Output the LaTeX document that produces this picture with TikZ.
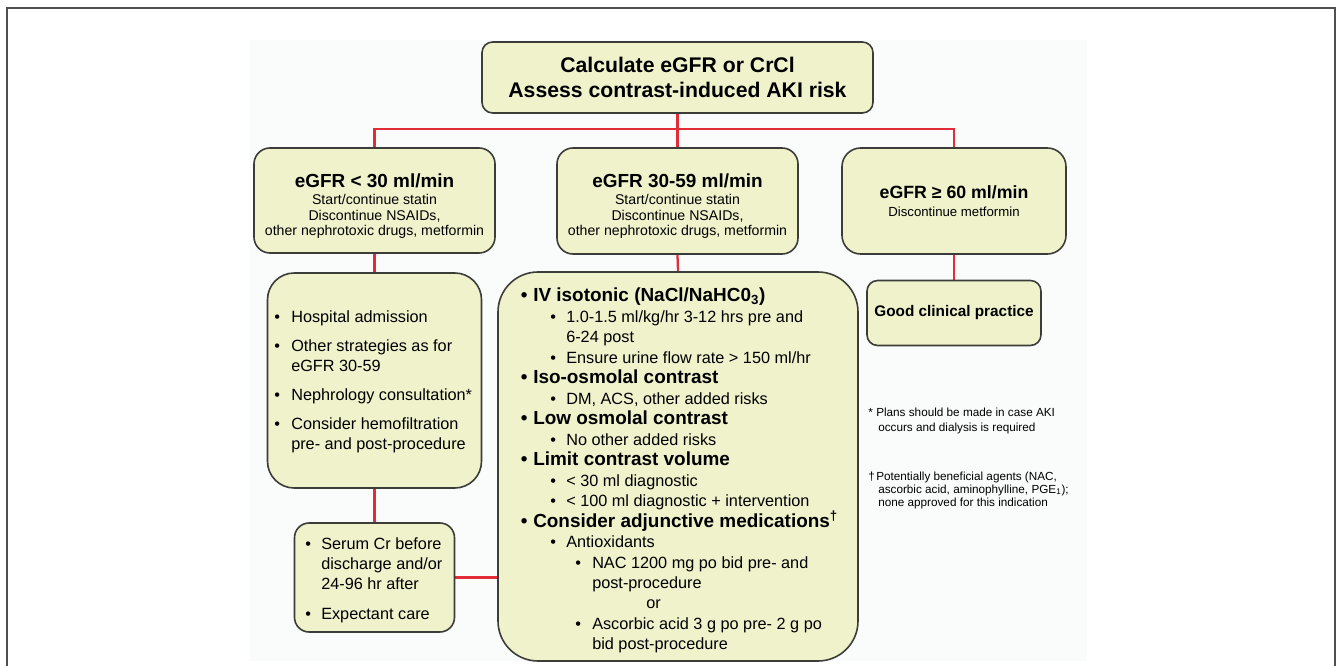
\documentclass[tikz,border=0pt]{standalone}
\usepackage{fontspec}
\setmainfont{Liberation Sans}
\usetikzlibrary{backgrounds}
\newdimen\PX \PX=0.75pt
\definecolor{boxfill}{RGB}{240,242,204}
\definecolor{boxline}{RGB}{60,60,56}
\definecolor{linkred}{RGB}{226,44,56}
\definecolor{panel}{RGB}{250,252,252}
\definecolor{frame}{RGB}{80,80,80}
\newcommand\fs[2]{\fontsize{#1}{#2}\selectfont}
\newcommand\bitem[3]{\par\noindent\makebox[#2\PX][l]{\hspace*{#1\PX}\textbullet}#3}
\newcommand\cont[2]{\par\noindent\hspace*{#1\PX}#2}
\begin{document}
\begin{tikzpicture}[x=0.75pt,y=-0.75pt,
  box/.style={draw=boxline, line width=1.2pt, fill=boxfill, inner sep=0pt},
  wh/.style 2 args={minimum width=#1*0.75pt, minimum height=#2*0.75pt},
  link/.style={draw=linkred, line width=1.7pt},
  txt/.style={inner sep=0pt, anchor=base west},
  ctxt/.style={inner sep=0pt, align=center}]
\useasboundingbox (0,0) rectangle (1339,666);

% boxes
\node[box, rounded corners=8pt, wh={391}{71}, align=center, font=\fs{15.9}{19.2}\bfseries] (top) at (677.5,77.5)
  {Calculate eGFR or CrCl\\Assess contrast-induced AKI risk};
\node[box, rounded corners=12pt, wh={241}{105}] (b1) at (374.5,200.5) {};
\node[box, rounded corners=12pt, wh={241}{106}] (b2) at (677.5,201) {};
\node[box, rounded corners=14pt, wh={224}{106}, align=center, font=\fs{9.9}{11}] (b3) at (954,201)
  {{\fs{13.3}{13.3}\bfseries eGFR ≥ 60 ml/min}\\[3pt]Discontinue metformin};
\node[box, rounded corners=8pt, wh={174}{65}, font=\fs{11.5}{13}\bfseries] (good) at (954,313) {Good clinical practice};
\node[box, rounded corners=20pt, wh={214}{215}] (ll) at (374.5,380.5) {};
\node[box, rounded corners=11pt, wh={160}{109}] (serum) at (374.5,577.5) {};
\node[box, rounded corners=30pt, wh={360}{389}] (big) at (678,466.5) {};

% texts inside boxes
\node[ctxt, font=\fs{10.6}{11.6}] (b1t) at (374.5,206)
  {{\fs{14.2}{14.2}\bfseries eGFR < 30 ml/min}\\[1.5pt]Start/continue statin\\Discontinue NSAIDs,\\other nephrotoxic drugs, metformin};
\node[ctxt, font=\fs{10.6}{11.6}] (b2t) at (677.5,206)
  {{\fs{14.2}{14.2}\bfseries eGFR 30-59 ml/min}\\[1.5pt]Start/continue statin\\Discontinue NSAIDs,\\other nephrotoxic drugs, metformin};

\node[txt] (lltxt) at (268,323) {\begin{minipage}[t]{212\PX}\fs{12.2}{15}%
\bitem{6}{23}{Hospital admission}\par\vspace{6.75pt}%
\bitem{6}{23}{Other strategies as for}\cont{23}{eGFR 30-59}\par\vspace{6.75pt}%
\bitem{6}{23}{Nephrology consultation*}\par\vspace{6.75pt}%
\bitem{6}{23}{Consider hemofiltration}\cont{23}{pre- and post-procedure}%
\end{minipage}};

\node[txt] (serumtxt) at (295,549) {\begin{minipage}[t]{158\PX}\fs{12.2}{15}%
\bitem{10}{26}{Serum Cr before}\cont{26}{discharge and/or}\cont{26}{24-96 hr after}\par\vspace{7.5pt}%
\bitem{10}{26}{Expectant care}%
\end{minipage}};

\node[txt] (bigtxt) at (505,302) {\begin{minipage}[t]{350\PX}\fs{12.2}{15.35}%
{\fs{14.2}{15.35}\bfseries\bitem{15.7}{28}{IV isotonic (NaCl/NaHC0\textsubscript{3})}\par}%
\bitem{45}{61}{1.0-1.5 ml/kg/hr 3-12 hrs pre and}\cont{61}{6-24 post}%
\bitem{45}{61}{Ensure urine flow rate > 150 ml/hr}%
{\fs{14.2}{15.35}\bfseries\bitem{15.7}{28}{Iso-osmolal contrast}\par}%
\bitem{45}{61}{DM, ACS, other added risks}%
{\fs{14.2}{15.35}\bfseries\bitem{15.7}{28}{Low osmolal contrast}\par}%
\bitem{45}{61}{No other added risks}%
{\fs{14.2}{15.35}\bfseries\bitem{15.7}{28}{Limit contrast volume}\par}%
\bitem{45}{61}{< 30 ml diagnostic}%
\bitem{45}{61}{< 100 ml diagnostic + intervention}%
{\fs{14.2}{15.35}\bfseries\bitem{15.7}{28}{Consider adjunctive medications\textsuperscript{†}}\par}%
\bitem{45}{61}{Antioxidants}%
\bitem{70}{87}{NAC 1200 mg po bid pre- and}\cont{87}{post-procedure}%
\cont{141}{or}%
\bitem{70}{87}{Ascorbic acid 3 g po pre- 2 g po}\cont{87}{bid post-procedure}%
\end{minipage}};

% footnotes
\node[txt] (fn1) at (868,417) {\begin{minipage}[t]{220\PX}\fs{8.8}{10.5}%
\makebox[8\PX][l]{*}Plans should be made in case AKI\\\hspace*{10\PX}occurs and dialysis is required\end{minipage}};
\node[txt] (fn2) at (868,480) {\begin{minipage}[t]{220\PX}\fs{8.8}{10}%
\makebox[8\PX][l]{†}Potentially beneficial agents (NAC,\\\hspace*{10\PX}ascorbic acid, aminophylline, PGE\textsubscript{1});\\\hspace*{10\PX}none approved for this indication\end{minipage}};

% background layer: page, panel, frame, connectors
\begin{pgfonlayer}{background}
\fill[white] (0,0) rectangle (1339,666);
\fill[panel] (250,40) rectangle (1087,661);
\draw[frame, line width=0.9pt] (7,667) -- (7,8) -- (1335,8) -- (1335,667);
\draw[link] (top.south) -- (b2.north);
\draw[link] (b1.north) -- ++(0,-18) -| (b3.north);
\draw[link] (b1.south) -- (ll.north);
\draw[link] (ll.south) -- (serum.north);
\draw[link] (b2.south) -- (big.north);
\draw[link] (b3.south) -- (good.north);
\draw[link] (serum.east) -- (big.west |- serum.east);
\end{pgfonlayer}
\end{tikzpicture}
\end{document}
